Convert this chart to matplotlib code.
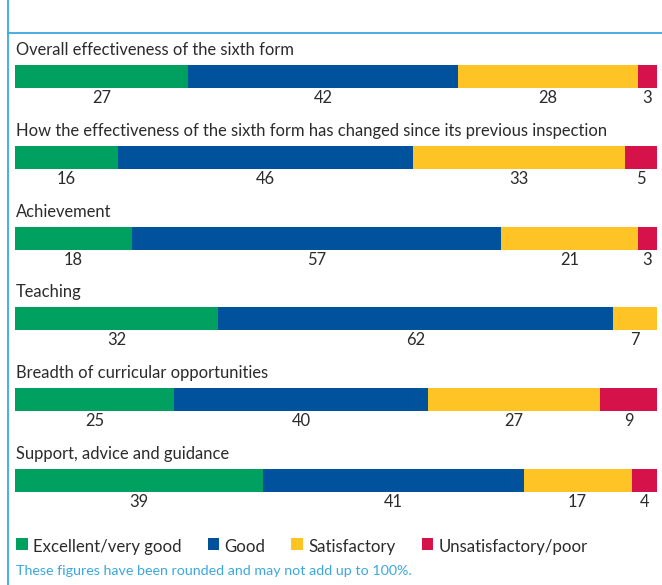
import matplotlib
matplotlib.use("Agg")
import matplotlib.pyplot as plt
import matplotlib.transforms as mtransforms
from matplotlib.lines import Line2D
from matplotlib.patches import Rectangle

plt.rcParams['font.family'] = ['Lato', 'DejaVu Sans']

# Survey areas and the percentage of judgements in each grade band
questions = [
    "Overall effectiveness of the sixth form",
    "How the effectiveness of the sixth form has changed since its previous inspection",
    "Achievement",
    "Teaching",
    "Breadth of curricular opportunities",
    "Support, advice and guidance",
]
excellent = [27, 16, 18, 32, 25, 39]
good = [42, 46, 57, 62, 40, 41]
satisfactory = [28, 33, 21, 7, 27, 17]
unsatisfactory = [3, 5, 3, 0, 9, 4]

grades = ["Excellent/very good", "Good", "Satisfactory", "Unsatisfactory/poor"]
grade_colors = ["#00a060", "#00529c", "#fec324", "#d51249"]
frame_color = "#3aa8df"
text_color = "#2b2b2b"
footnote = "These figures have been rounded and may not add up to 100%."

W, H = 662, 585
fig = plt.figure(figsize=(W / 100, H / 100), dpi=100)


def fx(px):
    return px / W


def fy(py):
    return 1 - py / H


# Panel frame: left rule and the rule under the header strip
fig.add_artist(Line2D([fx(7.8), fx(7.8)], [0, 1], color=frame_color, lw=1.3))
fig.add_artist(Line2D([fx(7.8), 1], [fy(32.5), fy(32.5)], color=frame_color, lw=1.3))

# Bar panel
left, right, top, bottom = 15, 657, 65, 492
pitch = (469 - 65) / 5
bar_h = 23 / pitch
ax = fig.add_axes([fx(left), fy(bottom), (right - left) / W, (bottom - top) / H])
n = len(questions)
ax.set_xlim(0, 1)
ax.set_ylim(n - 1 + bar_h / 2, -bar_h / 2)
ax.axis("off")

series = [excellent, good, satisfactory, unsatisfactory]
fs = 11.9

below = ax.transData + mtransforms.ScaledTranslation(0, -15 / 100, fig.dpi_scale_trans)
above = ax.transData + mtransforms.ScaledTranslation(1 / 100, 10 / 100, fig.dpi_scale_trans)

for i, q in enumerate(questions):
    row = [s[i] for s in series]
    total = sum(row)
    start = 0.0
    for v, c in zip(row, grade_colors):
        if v == 0:
            continue
        share = v / total
        ax.barh(i, share, left=start, height=bar_h, color=c, edgecolor="none")
        ax.text(start + share / 2, i + bar_h / 2, str(v), transform=below,
                ha="center", va="baseline", fontsize=fs, color=text_color)
        start += share
    ax.text(0, i - bar_h / 2, q, transform=above, ha="left", va="baseline",
            fontsize=fs, color=text_color)

# Legend row laid out from measured text widths
renderer = fig.canvas.get_renderer()
x = 16.0
sq = 11.5
for g, c in zip(grades, grade_colors):
    fig.add_artist(Rectangle((fx(x), fy(549.5)), sq / W, sq / H, transform=fig.transFigure,
                             facecolor=c, edgecolor="none"))
    t = fig.text(fx(x + sq + 5.5), fy(552), g, fontsize=12.1, color=text_color,
                 ha="left", va="baseline")
    w = t.get_window_extent(renderer).width
    x = x + sq + 5.5 + w + 26

fig.text(fx(15.5), fy(575), footnote, fontsize=10.3, color=frame_color,
         ha="left", va="baseline")

fig.savefig("out.png", dpi=100)
